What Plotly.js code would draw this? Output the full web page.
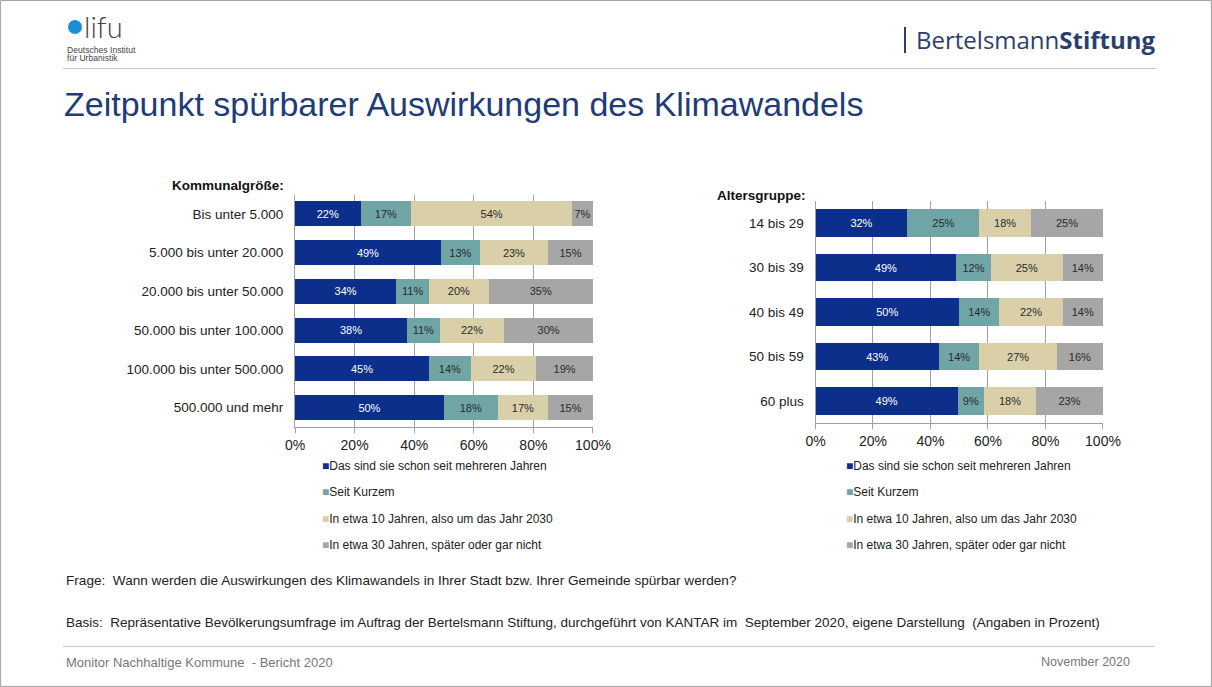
<!DOCTYPE html>
<html>
<head>
<meta charset="utf-8">
<script src="https://cdn.plot.ly/plotly-3.0.1.min.js"></script>
<style>
html,body{margin:0;padding:0;background:#fff;}
#chart{width:1212px;height:687px;}
</style>
</head>
<body>
<div id="chart"></div>
<script>
// ---- data ----
const seriesNames = [
  "Das sind sie schon seit mehreren Jahren",
  "Seit Kurzem",
  "In etwa 10 Jahren, also um das Jahr 2030",
  "In etwa 30 Jahren, später oder gar nicht"
];
const seriesColors = ["#0B2F8A", "#6FA5A5", "#D9D0A9", "#A6A6A6"];
const textColors = ["#ffffff", "#2a2a2a", "#2a2a2a", "#2a2a2a"];

const sizeCategories = ["Bis unter 5.000", "5.000 bis unter 20.000", "20.000 bis unter 50.000",
  "50.000 bis unter 100.000", "100.000 bis unter 500.000", "500.000 und mehr"];
const sizeSchon   = [22, 49, 34, 38, 45, 50];
const sizeKurzem  = [17, 13, 11, 11, 14, 18];
const size10Jahre = [54, 23, 20, 22, 22, 17];
const size30Jahre = [7, 15, 35, 30, 19, 15];

const ageCategories = ["14 bis 29", "30 bis 39", "40 bis 49", "50 bis 59", "60 plus"];
const ageSchon   = [32, 49, 50, 43, 49];
const ageKurzem  = [25, 12, 14, 14, 9];
const age10Jahre = [18, 25, 22, 27, 18];
const age30Jahre = [25, 14, 14, 16, 23];

const tickVals = [0, 20, 40, 60, 80, 100];
const tickText = ["0%", "20%", "40%", "60%", "80%", "100%"];

const sizeSeries = [sizeSchon, sizeKurzem, size10Jahre, size30Jahre];
const ageSeries = [ageSchon, ageKurzem, age10Jahre, age30Jahre];

const FONT = "Liberation Sans, Arial, sans-serif";

const traces = [];
function addSeries(seriesList, cats, xa, ya, bw) {
  seriesList.forEach((vals, i) => {
    traces.push({
      type: "bar", orientation: "h",
      x: vals, y: cats, xaxis: xa, yaxis: ya,
      name: seriesNames[i],
      marker: {color: seriesColors[i], line: {width: 0}},
      width: bw,
      text: vals.map(v => v + "%"),
      textposition: "inside",
      insidetextanchor: "middle",
      textangle: 0,
      constraintext: "none",
      textfont: {family: FONT, size: 11, color: textColors[i]},
      hoverinfo: "skip",
      showlegend: false,
      cliponaxis: false
    });
  });
}
addSeries(sizeSeries, sizeCategories, "x", "y", 0.645);
addSeries(ageSeries, ageCategories, "x2", "y2", 0.624);

const W = 1212, H = 687;
const px = x => x / W;
const py = y => 1 - y / H;

const xBase = {
  range: [0, 100.01], tickvals: tickVals, ticktext: tickText,
  showgrid: true, gridcolor: "#A0A0A0", gridwidth: 1,
  showline: true, linecolor: "#A0A0A0", linewidth: 1,
  ticks: "outside", ticklen: 5, tickcolor: "#A0A0A0",
  tickfont: {family: FONT, size: 14, color: "#222"},
  zeroline: false, fixedrange: true, layer: "below traces"
};
const yBase = {
  autorange: "reversed", type: "category",
  showline: true, linecolor: "#A0A0A0", linewidth: 1,
  ticks: "", showgrid: false, zeroline: false,
  tickfont: {family: FONT, size: 13.5, color: "#222"},
  ticklabelstandoff: 8, fixedrange: true
};

const annotations = [];
const shapes = [];

// Header
shapes.push({type: "circle", xref: "paper", yref: "paper",
  x0: px(68), x1: px(82), y0: py(20), y1: py(34), fillcolor: "#1A8FD8", line: {width: 0}});
annotations.push({xref: "paper", yref: "paper", x: px(82), y: py(27), xanchor: "left", yanchor: "middle",
  text: "lifu", showarrow: false, font: {family: "Lato, " + FONT, size: 29, color: "#444", weight: 300}});
annotations.push({xref: "paper", yref: "paper", x: px(65), y: py(50), xanchor: "left", yanchor: "middle",
  text: "Deutsches Institut", showarrow: false, font: {family: FONT, size: 8.6, color: "#444"}});
annotations.push({xref: "paper", yref: "paper", x: px(65), y: py(58), xanchor: "left", yanchor: "middle",
  text: "für Urbanistik", showarrow: false, font: {family: FONT, size: 8.6, color: "#444"}});
shapes.push({type: "line", xref: "paper", yref: "paper", x0: px(905), x1: px(905), y0: py(27), y1: py(53),
  line: {color: "#2B3F6E", width: 2}});
annotations.push({xref: "paper", yref: "paper", x: px(914), y: py(40), xanchor: "left", yanchor: "middle",
  text: "Bertelsmann<b>Stiftung</b>", showarrow: false, font: {family: "Open Sans, " + FONT, size: 24, color: "#2B3F6E"}});
shapes.push({type: "line", xref: "paper", yref: "paper", x0: px(63), x1: px(1157), y0: py(68.5), y1: py(68.5),
  line: {color: "#C8C8C8", width: 1}});
annotations.push({xref: "paper", yref: "paper", x: px(62), y: py(104), xanchor: "left", yanchor: "middle",
  text: "Zeitpunkt spürbarer Auswirkungen des Klimawandels", showarrow: false,
  font: {family: FONT, size: 34, color: "#1F3B78"}});

// Chart titles
annotations.push({xref: "paper", yref: "paper", x: px(286), y: py(186), xanchor: "right", yanchor: "middle",
  text: "<b>Kommunalgröße:</b>", showarrow: false, font: {family: FONT, size: 13.5, color: "#111"}});
annotations.push({xref: "paper", yref: "paper", x: px(715), y: py(195), xanchor: "left", yanchor: "middle",
  text: "<b>Altersgruppe:</b>", showarrow: false, font: {family: FONT, size: 13.5, color: "#111"}});

// Legends (text annotations with colored square)
const legRows = [466, 492, 519, 545];
function addLegend(xStart) {
  seriesNames.forEach((n, i) => {
    annotations.push({xref: "paper", yref: "paper", x: px(xStart), y: py(legRows[i]), xanchor: "left", yanchor: "middle",
      text: "<span style='color:" + seriesColors[i] + "'>■</span>" + n, showarrow: false,
      font: {family: FONT, size: 12, color: "#222"}});
  });
}
addLegend(320);
addLegend(844);

// Footer
annotations.push({xref: "paper", yref: "paper", x: px(64), y: py(580), xanchor: "left", yanchor: "middle",
  text: "Frage:  Wann werden die Auswirkungen des Klimawandels in Ihrer Stadt bzw. Ihrer Gemeinde spürbar werden?",
  showarrow: false, font: {family: FONT, size: 13.6, color: "#222"}});
annotations.push({xref: "paper", yref: "paper", x: px(64), y: py(622), xanchor: "left", yanchor: "middle",
  text: "Basis:  Repräsentative Bevölkerungsumfrage im Auftrag der Bertelsmann Stiftung, durchgeführt von KANTAR im  September 2020, eigene Darstellung  (Angaben in Prozent)",
  showarrow: false, font: {family: FONT, size: 13.5, color: "#222"}});
shapes.push({type: "line", xref: "paper", yref: "paper", x0: px(63), x1: px(1155), y0: py(646.5), y1: py(646.5),
  line: {color: "#C8C8C8", width: 1}});
annotations.push({xref: "paper", yref: "paper", x: px(64), y: py(662), xanchor: "left", yanchor: "middle",
  text: "Monitor Nachhaltige Kommune  - Bericht 2020", showarrow: false,
  font: {family: FONT, size: 13, color: "#777"}});
annotations.push({xref: "paper", yref: "paper", x: px(1132), y: py(662), xanchor: "right", yanchor: "middle",
  text: "November 2020", showarrow: false, font: {family: FONT, size: 12.5, color: "#777"}});

// frame
shapes.push({type: "rect", xref: "paper", yref: "paper", x0: 0.0005, x1: 0.9995, y0: 0.0008, y1: 0.9992,
  line: {color: "#A0A0A0", width: 1}, fillcolor: "rgba(0,0,0,0)"});

const layout = {
  width: W, height: H,
  margin: {l: 0, r: 0, t: 0, b: 0},
  paper_bgcolor: "#ffffff", plot_bgcolor: "#ffffff",
  barmode: "stack",
  barnorm: "percent",
  showlegend: false,
  font: {family: FONT},
  xaxis: Object.assign({}, xBase, {domain: [px(295), px(593)], anchor: "y"}),
  yaxis: Object.assign({}, yBase, {domain: [py(427), py(194.5)], anchor: "x"}),
  xaxis2: Object.assign({}, xBase, {domain: [px(815.5), px(1103)], anchor: "y2"}),
  yaxis2: Object.assign({}, yBase, {domain: [py(423.3), py(200.8)], anchor: "x2"}),
  annotations: annotations,
  shapes: shapes,
  uniformtext: {mode: false}
};

Plotly.newPlot("chart", traces, layout, {displayModeBar: false, staticPlot: true});
</script>
</body>
</html>
